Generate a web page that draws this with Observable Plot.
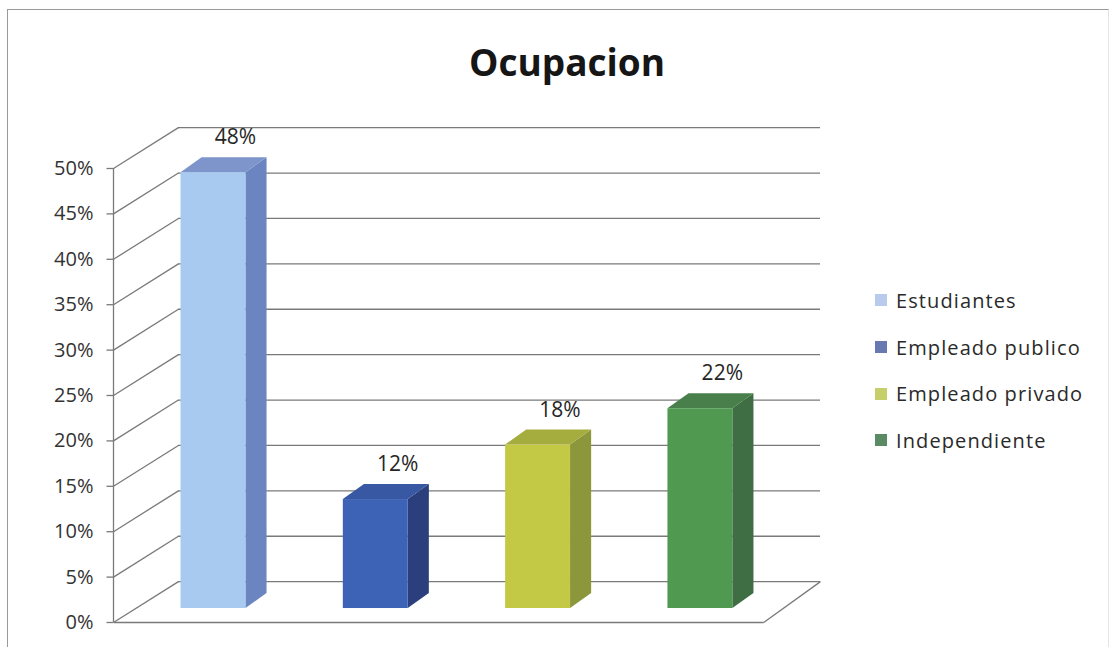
<!DOCTYPE html>
<html>
<head>
<meta charset="utf-8">
<script src="https://cdn.jsdelivr.net/npm/d3@7"></script>
<script src="https://cdn.jsdelivr.net/npm/@observablehq/plot@0.6"></script>
<style>
  html, body { margin: 0; padding: 0; background: #fff; }
  #wrap { position: relative; width: 1111px; height: 647px; overflow: hidden; background: #fff; font-family: "Open Sans", sans-serif; }
  #frame { position: absolute; left: 7px; top: 9px; width: 1100px; height: 660px; border: 1px solid #9a9a9a; border-right-color: #e4e4e4; }
  #title { position: absolute; left: 0; width: 1134px; top: 36px; text-align: center; font-weight: 700; font-size: 37px; color: #161616; }
  #legend { position: absolute; left: 875px; top: 277px; }
  .item { display: flex; align-items: center; height: 46.7px; font-size: 20px; letter-spacing: 1.1px; color: #2a2a2a; }
  .sw { width: 12px; height: 12px; margin-right: 9px; }
  #chart { position: absolute; left: 0; top: 0; }
</style>
</head>
<body>
<div id="wrap">
  <div id="frame"></div>
  <div id="chart"></div>
  <div id="title">Ocupacion</div>
  <div id="legend"></div>
</div>
<script>
// ---- data ----
const categories = ["Estudiantes", "Empleado publico", "Empleado privado", "Independiente"];
const values = [48, 12, 18, 22];
const valueLabels = ["48%", "12%", "18%", "22%"];
const yTicks = [0, 5, 10, 15, 20, 25, 30, 35, 40, 45, 50];
const yTickLabels = ["0%", "5%", "10%", "15%", "20%", "25%", "30%", "35%", "40%", "45%", "50%"];

// ---- styles ----
const frontColors = ["#a8c9f0", "#3d63b6", "#c3c945", "#4f9a50"];
const sideColors  = ["#6a85c0", "#2b3f7c", "#8b973a", "#3f6d44"];
const topColors   = ["#7d95cb", "#3858a4", "#a6ad3f", "#487f4b"];
const legendColors = ["#b9cbec", "#6878b0", "#c6d06a", "#5b8b65"];

// ---- 3D geometry (in scale units) ----
const FRONT_X = -0.616;   // front-left axis
const BACK_X = -0.216;    // back-left corner
const RIGHT_X = 3.74;     // back-right end of gridlines
const FLOOR_RIGHT = 3.39; // front-right corner of floor
const BACK_DY = 4.5;      // back wall vertical offset (in %)
const BAR_DY = 1.54;      // bar base plane offset (in %)
const HW = 0.2;           // half bar width
const DX = 0.13;          // bar depth x
const DY = 1.65;          // bar depth y (in %)

const bars = categories.map((c, i) => ({cat: c, i, v: values[i], label: valueLabels[i],
  front: frontColors[i], side: sideColors[i], top: topColors[i]}));

const sidePts = bars.flatMap(b => [
  {cat: b.cat, x: b.i + HW, y1: BAR_DY, y2: b.v + BAR_DY, fill: b.side},
  {cat: b.cat, x: b.i + HW + DX, y1: BAR_DY + DY, y2: b.v + BAR_DY + DY, fill: b.side}
]);
const topPts = bars.flatMap(b => [
  {cat: b.cat, y: b.v + BAR_DY, x1: b.i - HW, x2: b.i + HW, fill: b.top},
  {cat: b.cat, y: b.v + BAR_DY + DY, x1: b.i - HW + DX, x2: b.i + HW + DX, fill: b.top}
]);
const ticks = yTicks.map((t, k) => ({t, label: yTickLabels[k]}));

const gridColor = "#7a7a7a";
const gw = 1.3;

const plot = Plot.plot({
  width: 1111,
  height: 647,
  marginLeft: 113, marginRight: 0, marginTop: 0, marginBottom: 0,
  x: {type: "linear", domain: [FRONT_X, RIGHT_X], range: [113, 820], axis: null},
  y: {domain: [0, 50], range: [622, 168], axis: null},
  color: {type: "identity"},
  style: {fontFamily: "'Open Sans', sans-serif", background: "transparent", overflow: "visible"},
  marks: [
    // back wall gridlines
    Plot.ruleY(ticks, {y: d => d.t + BACK_DY, x1: () => BACK_X, x2: () => RIGHT_X, stroke: gridColor, strokeWidth: gw}),
    // left wall diagonals
    Plot.link(ticks, {x1: () => FRONT_X, y1: d => d.t, x2: () => BACK_X, y2: d => d.t + BACK_DY, stroke: gridColor, strokeWidth: gw}),
    // floor front and right edges
    Plot.link([0], {x1: () => FRONT_X, y1: () => 0, x2: () => FLOOR_RIGHT, y2: () => 0, stroke: gridColor, strokeWidth: gw}),
    Plot.link([0], {x1: () => FLOOR_RIGHT, y1: () => 0, x2: () => RIGHT_X, y2: () => BACK_DY, stroke: gridColor, strokeWidth: gw}),
    // front axis line and ticks
    Plot.ruleX([FRONT_X], {y1: () => 0, y2: () => 50, stroke: gridColor, strokeWidth: gw}),
    Plot.ruleY(ticks, {y: "t", x1: () => FRONT_X - 0.04, x2: () => FRONT_X, stroke: gridColor, strokeWidth: gw}),
    Plot.text(ticks, {x: () => FRONT_X, y: "t", text: "label", textAnchor: "end", dx: -20, fontSize: 20, fill: "#333333"}),
    // bars: side, top, front
    Plot.areaY(sidePts, {x: "x", y1: "y1", y2: "y2", z: "cat", fill: "fill"}),
    Plot.areaX(topPts, {y: "y", x1: "x1", x2: "x2", z: "cat", fill: "fill"}),
    Plot.rect(bars, {x1: d => d.i - HW, x2: d => d.i + HW, y1: () => BAR_DY, y2: d => d.v + BAR_DY, fill: "front"}),
    // value labels
    Plot.text(bars, {x: d => d.i + 0.135, y: d => d.v + BAR_DY, dy: -35, text: "label", fontSize: 21, fill: "#262626"})
  ]
});
document.getElementById("chart").appendChild(plot);

const legend = document.getElementById("legend");
categories.forEach((c, i) => {
  const it = document.createElement("div");
  it.className = "item";
  const sw = document.createElement("span");
  sw.className = "sw";
  sw.style.background = legendColors[i];
  const tx = document.createElement("span");
  tx.textContent = c;
  it.appendChild(sw); it.appendChild(tx);
  legend.appendChild(it);
});
</script>
</body>
</html>
